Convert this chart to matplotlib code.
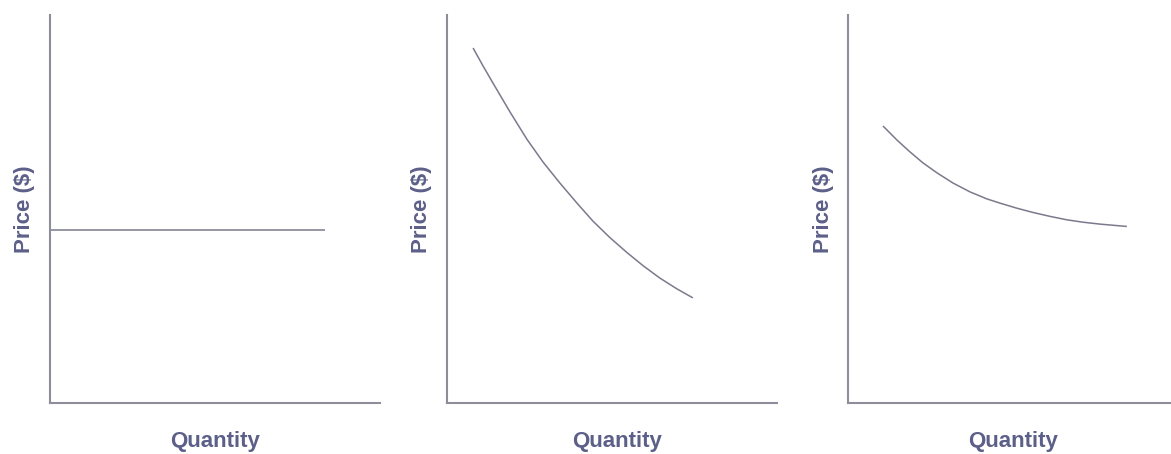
import matplotlib
matplotlib.use("Agg")
import matplotlib.pyplot as plt

# --- data (quantity / price in arbitrary units, 0-100 along each axis) ---
flat_q = [0.0, 83.3]
flat_p = [44.6, 44.6]

steep_q = [7.9, 10.9, 13.9, 19.1, 24.2, 29.1, 34.2, 39.4, 44.2, 49.4,
           54.5, 59.4, 64.5, 69.7, 74.5]
steep_p = [91.5, 86.9, 82.5, 75.0, 68.0, 62.1, 56.7, 51.5, 46.9, 42.6,
           38.8, 35.4, 32.2, 29.4, 27.1]

shallow_q = [10.6, 14.8, 18.8, 22.7, 27.0, 31.8, 37.0, 42.1, 46.1, 51.2,
             56.1, 61.2, 66.4, 71.2, 76.4, 84.5]
shallow_p = [71.4, 67.8, 64.7, 61.9, 59.3, 56.7, 54.4, 52.6, 51.5, 50.2,
             49.1, 48.1, 47.2, 46.6, 46.1, 45.5]

x_label = "Quantity"
y_label = "Price ($)"

panels = [(flat_q, flat_p), (steep_q, steep_p), (shallow_q, shallow_p)]
axis_left_px = [50, 447, 848]
xlabel_shift_px = [0, 5, 0]

W, H = 1171, 454
TEXT_COLOR = "#5c5f87"
AXIS_COLOR = "#8e8e9b"
LINE_COLOR = "#7a7a8c"
FONT = ["Liberation Sans Narrow", "Liberation Sans", "DejaVu Sans"]

fig = plt.figure(figsize=(W / 100, H / 100), dpi=100)
fig.patch.set_facecolor("white")

ax_w, ax_h = 330, 388
ax_bottom = 403

for (q, p), left, shift in zip(panels, axis_left_px, xlabel_shift_px):
    ax = fig.add_axes([left / W, (H - ax_bottom) / H, ax_w / W, ax_h / H])
    ax.plot(q, p, color=LINE_COLOR, lw=1.1, solid_capstyle="butt",
            solid_joinstyle="round")
    ax.set_xlim(0, 100)
    ax.set_ylim(0, 100)
    for side in ("top", "right"):
        ax.spines[side].set_visible(False)
    for side in ("left", "bottom"):
        ax.spines[side].set_color(AXIS_COLOR)
        ax.spines[side].set_linewidth(1.5)
    ax.set_xticks([])
    ax.set_yticks([])
    ax.patch.set_alpha(0)

    ax.text(0.5 + shift / ax_w, -(441 - ax_bottom) / ax_h, x_label,
            transform=ax.transAxes, ha="center", va="center", fontsize=16,
            fontweight="bold", color=TEXT_COLOR, family=FONT)
    ax.text(-25 / ax_w, 0.5, y_label, transform=ax.transAxes, rotation=90,
            ha="center", va="center", fontsize=16, fontweight="bold",
            color=TEXT_COLOR, family=FONT)

fig.savefig("out.png", dpi=100)
